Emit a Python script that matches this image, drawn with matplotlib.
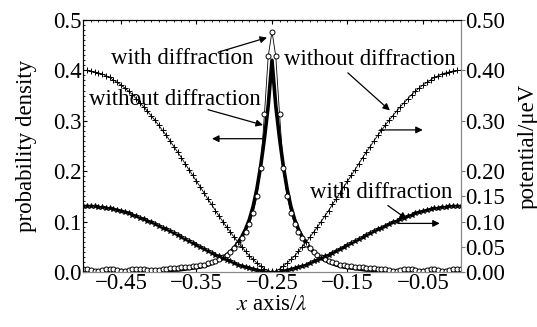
import numpy as np
import matplotlib
matplotlib.use('Agg')
from matplotlib import pyplot as plt
from matplotlib.ticker import MultipleLocator, FixedLocator, FuncFormatter

plt.rcParams['font.family'] = ['Liberation Serif', 'DejaVu Serif']
plt.rcParams['mathtext.fontset'] = 'stix'

# x positions (in units of lambda)
x = np.linspace(-0.5, 0.0, 101)

# potential without diffraction (right axis, "+" markers)
pot_nodiff = [0.400, 0.400, 0.399, 0.397, 0.395, 0.393, 0.389, 0.386, 0.381, 0.376,
              0.371, 0.365, 0.359, 0.352, 0.344, 0.336, 0.328, 0.319, 0.310, 0.301,
              0.291, 0.281, 0.271, 0.260, 0.249, 0.238, 0.227, 0.215, 0.203, 0.192,
              0.180, 0.169, 0.157, 0.145, 0.134, 0.122, 0.111, 0.100, 0.089, 0.079,
              0.069, 0.059, 0.050, 0.041, 0.032, 0.025, 0.018, 0.012, 0.006, 0.002,
              0.000,
              0.002, 0.006, 0.012, 0.018, 0.025, 0.032, 0.041, 0.050, 0.059, 0.069,
              0.079, 0.089, 0.100, 0.111, 0.122, 0.134, 0.145, 0.157, 0.169, 0.180,
              0.192, 0.203, 0.215, 0.227, 0.238, 0.249, 0.260, 0.271, 0.281, 0.291,
              0.301, 0.310, 0.319, 0.328, 0.336, 0.344, 0.352, 0.359, 0.365, 0.371,
              0.376, 0.381, 0.386, 0.389, 0.393, 0.395, 0.397, 0.399, 0.400, 0.400]

# potential with diffraction (right axis, filled markers)
pot_diff = [0.132, 0.132, 0.132, 0.131, 0.130, 0.129, 0.128, 0.127, 0.125, 0.123,
            0.121, 0.119, 0.117, 0.114, 0.111, 0.108, 0.105, 0.102, 0.099, 0.096,
            0.092, 0.088, 0.085, 0.081, 0.077, 0.073, 0.069, 0.065, 0.061, 0.057,
            0.054, 0.050, 0.046, 0.042, 0.038, 0.034, 0.031, 0.027, 0.024, 0.021,
            0.018, 0.015, 0.012, 0.010, 0.008, 0.006, 0.004, 0.002, 0.001, 0.000,
            0.000,
            0.000, 0.001, 0.002, 0.004, 0.006, 0.008, 0.010, 0.012, 0.015, 0.018,
            0.021, 0.024, 0.027, 0.031, 0.034, 0.038, 0.042, 0.046, 0.050, 0.054,
            0.057, 0.061, 0.065, 0.069, 0.073, 0.077, 0.081, 0.085, 0.088, 0.092,
            0.096, 0.099, 0.102, 0.105, 0.108, 0.111, 0.114, 0.117, 0.119, 0.121,
            0.123, 0.125, 0.127, 0.128, 0.129, 0.130, 0.131, 0.132, 0.132, 0.132]

# probability density without diffraction (left axis, thick line)
prob_nodiff = [0.001, 0.001, 0.001, 0.001, 0.001, 0.001, 0.001, 0.001, 0.001, 0.001,
               0.001, 0.001, 0.001, 0.001, 0.002, 0.002, 0.002, 0.002, 0.002, 0.002,
               0.002, 0.003, 0.003, 0.003, 0.004, 0.004, 0.005, 0.006, 0.007, 0.008,
               0.009, 0.010, 0.012, 0.014, 0.017, 0.020, 0.024, 0.028, 0.034, 0.040,
               0.048, 0.058, 0.070, 0.085, 0.104, 0.130, 0.165, 0.210, 0.265, 0.330,
               0.420,
               0.330, 0.265, 0.210, 0.165, 0.130, 0.104, 0.085, 0.070, 0.058, 0.048,
               0.040, 0.034, 0.028, 0.024, 0.020, 0.017, 0.014, 0.012, 0.010, 0.009,
               0.008, 0.007, 0.006, 0.005, 0.004, 0.004, 0.003, 0.003, 0.003, 0.002,
               0.002, 0.002, 0.002, 0.002, 0.002, 0.002, 0.001, 0.001, 0.001, 0.001,
               0.001, 0.001, 0.001, 0.001, 0.001, 0.001, 0.001, 0.001, 0.001, 0.001]

# probability density with diffraction (left axis, open circles)
prob_diff = [0.006, 0.006, 0.005, 0.003, 0.003, 0.004, 0.006, 0.007, 0.006, 0.004,
             0.003, 0.003, 0.004, 0.006, 0.007, 0.007, 0.006, 0.005, 0.004, 0.004,
             0.005, 0.006, 0.007, 0.008, 0.008, 0.009, 0.010, 0.010, 0.011, 0.012,
             0.013, 0.014, 0.015, 0.017, 0.019, 0.022, 0.025, 0.029, 0.034, 0.040,
             0.047, 0.056, 0.067, 0.080, 0.096, 0.118, 0.150, 0.207, 0.313, 0.428,
             0.477,
             0.428, 0.313, 0.207, 0.150, 0.118, 0.096, 0.080, 0.067, 0.056, 0.047,
             0.040, 0.034, 0.029, 0.025, 0.022, 0.019, 0.017, 0.015, 0.014, 0.013,
             0.012, 0.011, 0.010, 0.010, 0.009, 0.008, 0.008, 0.007, 0.007, 0.006,
             0.005, 0.003, 0.003, 0.004, 0.006, 0.007, 0.006, 0.004, 0.003, 0.003,
             0.004, 0.006, 0.006, 0.005, 0.003, 0.003, 0.004, 0.006, 0.006, 0.006]

x_ticks = [-0.45, -0.35, -0.25, -0.15, -0.05]
left_ticks = [0.0, 0.1, 0.2, 0.3, 0.4, 0.5]
right_ticks = [0.00, 0.05, 0.10, 0.15, 0.20, 0.30, 0.40, 0.50]

fig = plt.figure(figsize=(5.37, 3.27), dpi=100)
ax = fig.add_axes([0.155, 0.168, 0.703, 0.771])
ax2 = ax.twinx()

# potentials on the right axis
ax2.plot(x, pot_nodiff, color='black', lw=0.6, marker='+', ms=4, mew=0.7)
ax2.plot(x, pot_diff, color='black', lw=1.0, marker='*', ms=4, mew=0.6)

# probability densities on the left axis
ax.plot(x, prob_nodiff, color='black', lw=2.6, zorder=3)
ax.plot(x, prob_diff, color='black', lw=0.6, marker='o', ms=3.6,
        mfc='white', mec='black', mew=0.7, zorder=4)

ax.set_xlim(-0.5, 0.0)
ax.set_ylim(0.0, 0.5)
ax2.set_ylim(0.0, 0.5)

ax.xaxis.set_major_locator(FixedLocator(x_ticks))
ax.xaxis.set_major_formatter(FuncFormatter(lambda v, p: ('%.2f' % v).replace('-', '\u2212')))
ax.xaxis.set_minor_locator(MultipleLocator(0.01))
ax.yaxis.set_major_locator(FixedLocator(left_ticks))
ax.yaxis.set_major_formatter(FuncFormatter(lambda v, p: '%.1f' % v))
ax.yaxis.set_minor_locator(MultipleLocator(0.01))
ax2.yaxis.set_major_locator(FixedLocator(right_ticks))
ax2.yaxis.set_major_formatter(FuncFormatter(lambda v, p: '%.2f' % v))

fs = 16.5
ax.tick_params(axis='x', which='major', direction='in', length=3, top=True, labelsize=fs, pad=1)
ax.tick_params(axis='x', which='minor', direction='in', length=1.2, top=True, bottom=False)
ax.tick_params(axis='y', which='major', direction='in', length=3, labelsize=fs, pad=1)
ax.tick_params(axis='y', which='minor', direction='in', length=1.2)
ax2.tick_params(axis='y', which='major', direction='out', length=3, labelsize=fs, pad=0,
                color='#777777')

for a in (ax, ax2):
    a.spines['bottom'].set_color('#888888')
    a.spines['right'].set_color('#888888')
    a.spines['left'].set_linewidth(0.8)
    a.spines['top'].set_linewidth(0.8)

ax.set_xlabel('$x$ axis/$\\lambda$', fontsize=fs, labelpad=0)
ax.set_ylabel('probability density', fontsize=fs, labelpad=12)
ax2.set_ylabel('potential/\u03bceV', fontsize=fs, labelpad=9)

arrow = dict(arrowstyle='-|>', color='black', lw=0.9, mutation_scale=10, shrinkA=0, shrinkB=0)
txt = dict(fontsize=fs, ha='center', va='center')

ax.text(-0.369, 0.423, 'with diffraction', **txt)
ax.annotate('', xy=(-0.2566, 0.465), xytext=(-0.3214, 0.436), arrowprops=arrow)
ax.text(-0.378, 0.342, 'without diffraction', **txt)
ax.annotate('', xy=(-0.2619, 0.2915), xytext=(-0.3347, 0.322), arrowprops=arrow)
ax.annotate('', xy=(-0.3294, 0.2645), xytext=(-0.2632, 0.2645), arrowprops=arrow)

ax.text(-0.1204, 0.421, 'without diffraction', **txt)
ax.annotate('', xy=(-0.0939, 0.3205), xytext=(-0.1495, 0.395), arrowprops=arrow)
ax.annotate('', xy=(-0.0503, 0.2819), xytext=(-0.1071, 0.2819), arrowprops=arrow)
ax.text(-0.1058, 0.158, 'with diffraction', **txt)
ax.annotate('', xy=(-0.0714, 0.105), xytext=(-0.0966, 0.132), arrowprops=arrow)
ax.annotate('', xy=(-0.0278, 0.0965), xytext=(-0.0833, 0.0965), arrowprops=arrow)

fig.savefig('out.png', dpi=100)
